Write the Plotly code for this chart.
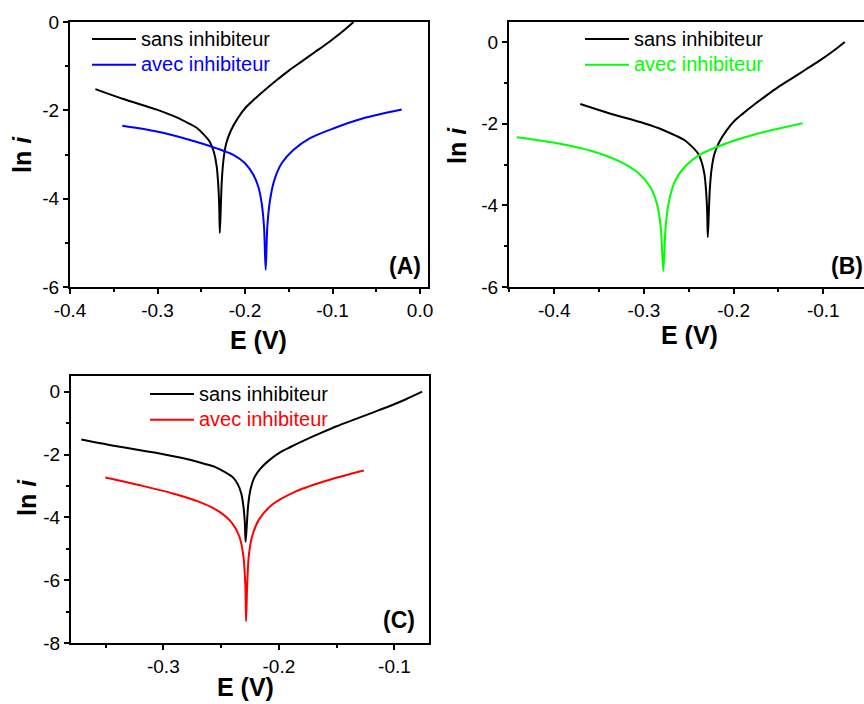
import plotly.graph_objects as go

# ---------------- data ----------------
# "sans inhibiteur" curve (the same in the three panels)
E_sans = [-0.371, -0.339, -0.300, -0.278, -0.264, -0.255, -0.247, -0.240, -0.2355,
          -0.2325, -0.2308, -0.2295, -0.2288, -0.2276, -0.2266, -0.2245, -0.2215,
          -0.2160, -0.2080, -0.1990, -0.1900, -0.1780, -0.1640, -0.1500, -0.1350,
          -0.1200, -0.1050, -0.0900, -0.0760]
lni_sans = [-1.52, -1.745, -1.99, -2.16, -2.30, -2.40, -2.55, -2.72, -2.95,
            -3.25, -3.62, -4.15, -4.78, -4.15, -3.62, -3.10, -2.75,
            -2.45, -2.17, -1.93, -1.76, -1.55, -1.32, -1.10, -0.89,
            -0.68, -0.47, -0.24, 0.0]

# (A) avec inhibiteur (blue)
E_avec_A = [-0.3402, -0.3009, -0.2629, -0.2324, -0.2133, -0.2000, -0.1905, -0.1848,
            -0.1810, -0.1783, -0.1764, -0.1745, -0.1714, -0.1665, -0.1581, -0.1448,
            -0.1257, -0.0991, -0.0648, -0.0209]
lni_avec_A = [-2.35, -2.48, -2.67, -2.86, -3.01, -3.20, -3.46, -3.73,
              -4.10, -4.63, -5.61, -4.63, -4.03, -3.58, -3.20, -2.90,
              -2.63, -2.41, -2.18, -1.98]

# (B) avec inhibiteur (green)
E_avec_B = [-0.4419, -0.3936, -0.3565, -0.3267, -0.3063, -0.2933, -0.2858, -0.2813,
            -0.2784, -0.2758, -0.2717, -0.2654, -0.2542, -0.2375, -0.2115, -0.1706,
            -0.1230]
lni_avec_B = [-2.33, -2.49, -2.68, -2.93, -3.21, -3.54, -3.94, -4.52,
              -5.61, -4.52, -3.86, -3.41, -3.05, -2.76, -2.51, -2.23,
              -1.99]

# (C) avec inhibiteur (red)
E_avec_C = [-0.3502, -0.3213, -0.2925, -0.2694, -0.2520, -0.2405, -0.2342, -0.2307,
            -0.2290, -0.2284, -0.2275, -0.2261, -0.2232, -0.2174, -0.2059, -0.1857,
            -0.1568, -0.1265]
lni_avec_C = [-2.73, -2.97, -3.23, -3.50, -3.81, -4.18, -4.61, -5.24,
              -6.20, -7.31, -6.20, -5.24, -4.61, -4.08, -3.60, -3.18,
              -2.81, -2.51]

series_names = ["sans inhibiteur", "avec inhibiteur"]
panel_labels = ["(A)", "(B)", "(C)"]

xtick_vals_A = [-0.4, -0.3, -0.2, -0.1, 0.0]
xtick_text_A = ["-0.4", "-0.3", "-0.2", "-0.1", "0.0"]
xtick_vals_B = [-0.4, -0.3, -0.2, -0.1]
xtick_text_B = ["-0.4", "-0.3", "-0.2", "-0.1"]
xtick_vals_C = [-0.3, -0.2, -0.1]
xtick_text_C = ["-0.3", "-0.2", "-0.1"]
ytick_vals_AB = [0, -2, -4, -6]
ytick_text_AB = ["0", "-2", "-4", "-6"]
ytick_vals_C = [0, -2, -4, -6, -8]
ytick_text_C = ["0", "-2", "-4", "-6", "-8"]

# ---------------- figure ----------------
W, H = 864, 704
FONT = "Arial, 'Liberation Sans', sans-serif"
BLACK = "#000000"
BLUE = "#0000FF"
GREEN = "#00FF00"
RED = "#FF0000"


def px(x):
    return x / W


def py(y):
    return 1 - y / H


fig = go.Figure()

panels = [
    ("x", "y", "legend", E_avec_A, lni_avec_A, BLUE),
    ("x2", "y2", "legend2", E_avec_B, lni_avec_B, GREEN),
    ("x3", "y3", "legend3", E_avec_C, lni_avec_C, RED),
]
for xa, ya, leg, ex, ly, col in panels:
    fig.add_trace(go.Scatter(x=E_sans, y=lni_sans, mode="lines", xaxis=xa, yaxis=ya,
                             line=dict(color=BLACK, width=2, shape="spline", smoothing=0.8),
                             name="<span style='font-size:20px'>%s</span>" % series_names[0],
                             legend=leg))
    fig.add_trace(go.Scatter(x=ex, y=ly, mode="lines", xaxis=xa, yaxis=ya,
                             line=dict(color=col, width=2, shape="spline", smoothing=0.8),
                             name="<span style='font-size:20px;color:%s'>%s</span>" % (col, series_names[1]),
                             legend=leg))


def axis(domain, rng, tv, tt, anchor, minor_dtick, mirror=True):
    return dict(domain=domain, range=rng, anchor=anchor, automargin=False,
                tickmode="array", tickvals=tv, ticktext=tt,
                showline=True, linecolor=BLACK, linewidth=2, mirror=mirror,
                ticks="outside", ticklen=5, tickwidth=2, tickcolor=BLACK,
                minor=dict(ticks="outside", ticklen=3, tickwidth=2, tickcolor=BLACK,
                           dtick=minor_dtick, showgrid=False),
                showgrid=False, zeroline=False,
                tickfont=dict(family=FONT, size=19, color=BLACK))


fig.update_layout(
    xaxis=axis([px(70), px(428)], [-0.4, 0.0091], xtick_vals_A, xtick_text_A, "y", 0.05),
    yaxis=axis([py(287), py(22)], [-6, 0], ytick_vals_AB, ytick_text_AB, "x", 1),
    xaxis2=axis([px(509), 1.0], [-0.4505, -0.0546], xtick_vals_B, xtick_text_B, "y2", 0.05),
    yaxis2=axis([py(287), py(22)], [-6, 0.49], ytick_vals_AB, ytick_text_AB, "x2", 1, mirror=False),
    xaxis3=axis([px(71), px(429)], [-0.3799, -0.0701], xtick_vals_C, xtick_text_C, "y3", 0.05),
    yaxis3=axis([py(643), py(376)], [-8, 0.5], ytick_vals_C, ytick_text_C, "x3", 1),
)

leg_common = dict(font=dict(family=FONT, size=17.5, color=BLACK), bgcolor="rgba(0,0,0,0)",
                  borderwidth=0, xanchor="left", yanchor="top", itemwidth=44,
                  tracegroupgap=0)
fig.update_layout(
    legend=dict(x=px(87), y=py(21), **leg_common),
    legend2=dict(x=px(580), y=py(21), **leg_common),
    legend3=dict(x=px(145), y=py(376), **leg_common),
)

annots = []
title_font = dict(family=FONT, size=25, color=BLACK)
for (x, y) in [(22, 155), (457, 146), (27, 498)]:
    annots.append(dict(text="<b>ln <i>i</i></b>", x=px(x), y=py(y), xref="paper", yref="paper",
                       showarrow=False, textangle=-90, xanchor="center", yanchor="middle",
                       font=title_font))
for (x, y) in [(258, 340), (689, 335), (245, 687)]:
    annots.append(dict(text="<b>E (V)</b>", x=px(x), y=py(y), xref="paper", yref="paper",
                       showarrow=False, xanchor="center", yanchor="middle", font=title_font))
lab_font = dict(family=FONT, size=23, color=BLACK)
annots.append(dict(text="<b>%s</b>" % panel_labels[0], x=px(405), y=py(266), xref="paper", yref="paper",
                   showarrow=False, xanchor="center", yanchor="middle", font=lab_font))
annots.append(dict(text="<b>%s</b>" % panel_labels[1], x=px(829), y=py(266), xref="paper", yref="paper",
                   showarrow=False, xanchor="left", yanchor="middle", font=lab_font))
annots.append(dict(text="<b>%s</b>" % panel_labels[2], x=px(399), y=py(620), xref="paper", yref="paper",
                   showarrow=False, xanchor="center", yanchor="middle", font=lab_font))

fig.update_layout(
    width=W, height=H, margin=dict(l=0, r=0, t=0, b=0, autoexpand=False),
    paper_bgcolor="white", plot_bgcolor="white",
    annotations=annots, showlegend=True,
    font=dict(family=FONT, color=BLACK),
)

fig.write_html("out.html")
